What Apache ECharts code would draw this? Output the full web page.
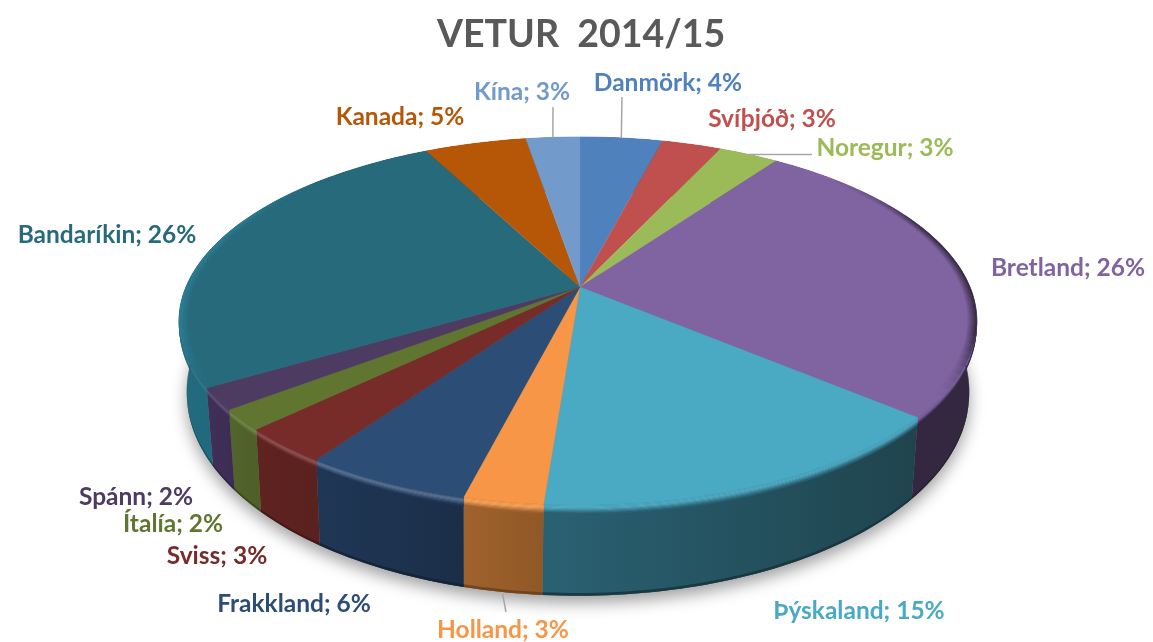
<!DOCTYPE html>
<html><head><meta charset="utf-8">
<style>html,body{margin:0;padding:0;background:#fff}#c{width:1153px;height:642px}</style>
<script src="https://cdn.jsdelivr.net/npm/echarts@6/dist/echarts.min.js"></script>
</head><body><div id="c"></div>
<script>
const chartTitle = 'VETUR  2014/15';
const categories = ['Danmörk','Svíþjóð','Noregur','Bretland','Þýskaland','Holland','Frakkland','Sviss','Ítalía','Spánn','Bandaríkin','Kanada','Kína'];
const values = [4.0,2.9,2.9,26.4,15.0,2.7,5.7,3.1,1.8,1.9,26.1,4.9,2.6];
const topColors = ['#4f81bd','#c0504d','#9bbb59','#8064a2','#4aa9c3','#f79646','#2c4d75','#772c2a','#5f7530','#4d3b62','#276a7c','#b65708','#729aca'];
const sideStart = ['#2f4d71','#73302e','#5d7035','#33283f','#2a6172','#a0622d','#1f3756','#5f2320','#52652b','#402f58','#226a7e','#6d3405','#445c79'];
const sideEnd   = ['#2f4d71','#73302e','#5d7035','#33283f','#1f444e','#8f5826','#1b2e48','#5a211e','#4e5f28','#3d2c52','#1f6477','#6d3405','#445c79'];
const edgeColors = ['#4f81bd','#c0504d','#9bbb59','#35293f','#4aa9c3','#f79646','#2c4d75','#772c2a','#5f7530','#4d3b62','#2e7d94','#b65708','#729aca'];
const highlightAmounts = [0,0,0,0,0.05,0.15,0.25,0.22,0.15,0.15,0.12,0,0];
const labelCenters = [[668,83],[772,119],[885,148],[1068,268],[859,611],[503,630],[294,604],[217,556],[173,524],[136,497],[107,235],[400,117],[522,92]];
const leaderEnds = {0:[622,97],2:[812,154],5:[506,612],12:[553,107]};

// pie geometry (projective view of a flat disc)
const TOP={cx:580,cy:287,Rr:390,Rl:394,S:177.7,k:0.1847}, BOT={cx:578,cy:355,Rr:384,Rl:384,S:195,k:0.19};
const total = values.reduce((a,b)=>a+b,0);
const starts=[]; values.reduce((s,v,i)=>(starts[i]=s,s+v),0);
const ang = p => p/total*2*Math.PI;
function proj(g,th,r){const u=r*Math.sin(th),v=r*Math.cos(th),w=1+g.k*v;return [g.cx+(u>0?g.Rr:g.Rl)*u/w,g.cy-g.S*v/w];}
const lerp=(a,b,t)=>[a[0]+(b[0]-a[0])*t,a[1]+(b[1]-a[1])*t];
function wall(th,t){return lerp(proj(TOP,th,1),proj(BOT,th,1),t);}
function arcPts(a0,a1,fn){const n=Math.max(2,Math.ceil((a1-a0)/0.02));const o=[];for(let i=0;i<=n;i++)o.push(fn(a0+(a1-a0)*i/n));return o;}
function hex(c){return [1,3,5].map(i=>parseInt(c.substr(i,2),16));}
function mix(a,b,t){const x=hex(a),y=hex(b);const n=x.map((q,i)=>Math.round(q+(y[i]-q)*t));return '#'+n.map(q=>q.toString(16).padStart(2,'0')).join('');}
const band=(a0,a1,f0,f1)=>arcPts(a0,a1,f0).concat(arcPts(a0,a1,f1).reverse());

const seriesData = values.map((v,i)=>[i,v]);

function renderShadow(){
  return {type:'polygon',shape:{points:arcPts(Math.PI*0.35,Math.PI*1.65,th=>proj(BOT,th,1))},
    style:{fill:'#777',shadowColor:'rgba(0,0,0,0.38)',shadowBlur:16,shadowOffsetY:7,shadowOffsetX:0},silent:true};
}
function renderSide(params,api){
  const i=api.value(0),a0=ang(starts[i]),a1=a0+ang(api.value(1));
  const kids=[{type:'polygon',shape:{points:band(a0,a1,th=>wall(th,0),th=>wall(th,1))},
    style:{fill:new echarts.graphic.LinearGradient(0,0,1,0,[{offset:0,color:sideStart[i]},{offset:1,color:sideEnd[i]}])}}];
  const steps=8, hi=mix(topColors[i],'#ffffff',highlightAmounts[i]);
  for(let s=0;s<steps;s++){
    const t0=s/steps*0.1,t1=(s+1)/steps*0.1,f=s/(steps-1);
    const col=f<0.35?mix(topColors[i],hi,f/0.35):mix(hi,sideStart[i],(f-0.35)/0.65);
    kids.push({type:'polygon',shape:{points:band(a0,a1,th=>wall(th,t0),th=>wall(th,t1))},style:{fill:col,stroke:col,lineWidth:0.4}});
  }
  const low=mix(sideEnd[i],'#000000',0.28);
  kids.push({type:'polygon',shape:{points:band(a0,a1,th=>wall(th,0.97),th=>wall(th,1))},style:{fill:low,opacity:0.8}});
  return {type:'group',children:kids,silent:true};
}
function renderTop(params,api){
  const i=api.value(0),a0=ang(starts[i]),a1=a0+ang(api.value(1));
  const pts=[proj(TOP,a0,0)].concat(arcPts(a0,a1,th=>proj(TOP,th,1)));
  const kids=[{type:'polygon',shape:{points:pts},style:{fill:topColors[i],stroke:topColors[i],lineWidth:0.3}}];
  const n=Math.ceil((a1-a0)/0.04);
  for(let s=0;s<n;s++){
    const b0=a0+(a1-a0)*s/n,b1=a0+(a1-a0)*(s+1)/n,m=(b0+b1)/2;
    const side=Math.max(0,Math.min(1,(Math.abs(Math.sin(m))-0.6)/0.35));
    const fade=Math.max(0,Math.min(1,(Math.cos(m)+0.55)/0.3))*Math.max(0,Math.min(1,(0.7-Math.cos(m))/0.3));
    const str=side*fade;
    if(str<=0)continue;
    const R=6;
    for(let q=0;q<R;q++){
      const r0=0.978+q/R*0.022,r1=0.978+(q+1)/R*0.022;
      const col=mix(topColors[i],edgeColors[i],str*(q+1)/R);
      kids.push({type:'polygon',shape:{points:band(b0,b1,th=>proj(TOP,th,r0),th=>proj(TOP,th,r1))},style:{fill:col,stroke:col,lineWidth:0.3}});
    }
  }
  return {type:'group',children:kids,silent:true};
}
function renderLabel(params,api){
  const i=api.value(0),mid=ang(starts[i]+api.value(1)/2),c=labelCenters[i];
  const kids=[];
  if(leaderEnds[i]){
    const e=leaderEnds[i],front=Math.cos(mid)<0,p=front?wall(mid,1):proj(TOP,mid,1);
    const from=front?[p[0],p[1]+2]:p;
    kids.push({type:'polyline',shape:{points:[from,i===2?[e[0],from[1]]:e]},style:{fill:null,stroke:'#a6a6a6',lineWidth:1.5}});
  }
  kids.push({type:'text',style:{text:categories[i]+'; '+Math.round(api.value(1))+'%',x:c[0],y:c[1],align:'center',verticalAlign:'middle',
    fill:topColors[i],font:'bold 24.5px Lato, "Open Sans", sans-serif'}});
  return {type:'group',children:kids,silent:true};
}
const chart=echarts.init(document.getElementById('c'),null,{renderer:'canvas'});
chart.setOption({
  animation:false,backgroundColor:'#ffffff',
  title:{text:chartTitle,top:11,left:432,
    textStyle:{color:'#595959',fontFamily:'Lato, "Open Sans", sans-serif',fontWeight:'bold',fontSize:37.5}},
  series:[
    {type:'custom',coordinateSystem:'none',z:1,silent:true,data:[[0]],renderItem:renderShadow},
    {type:'custom',coordinateSystem:'none',z:2,silent:true,data:seriesData,renderItem:renderSide},
    {type:'custom',coordinateSystem:'none',z:3,silent:true,data:seriesData,renderItem:renderTop},
    {type:'custom',coordinateSystem:'none',z:4,silent:true,data:seriesData,renderItem:renderLabel}
  ]
});
</script></body></html>
